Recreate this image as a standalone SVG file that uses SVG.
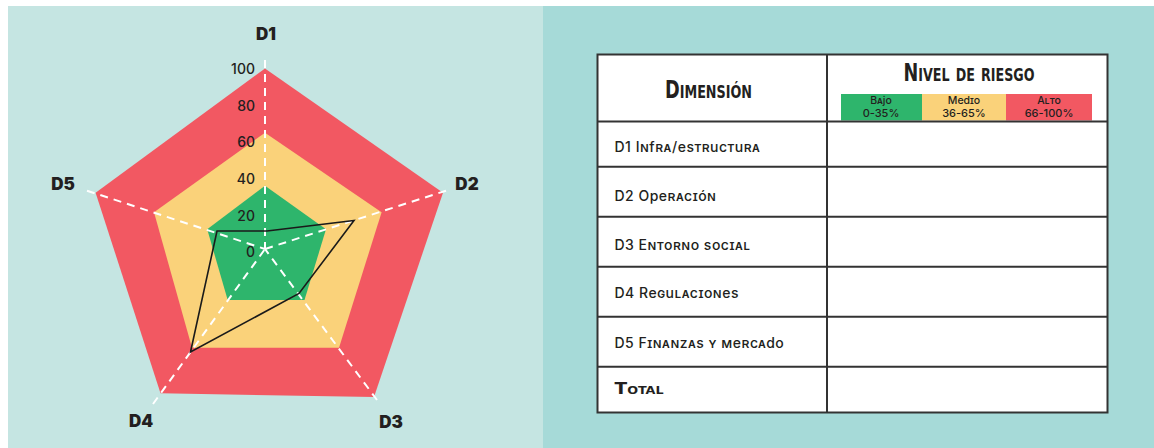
<svg xmlns="http://www.w3.org/2000/svg" width="1154" height="448" viewBox="0 0 1154 448">
<style>
.axis{stroke:#fff;stroke-width:2;stroke-dasharray:8 6;fill:none}
.tick{font-family:Inter,"Noto Sans",sans-serif;font-size:14px;font-weight:500;fill:#231f20;text-anchor:end}
.dl{font-family:Inter,"Noto Sans",sans-serif;font-size:17px;font-weight:900;fill:#231f20;text-anchor:middle}
.row{font-family:Inter,"Noto Sans",sans-serif;font-size:14px;font-weight:500;fill:#231f20;font-variant:small-caps;letter-spacing:0.5px}
.hd{font-family:"DejaVu Sans Condensed","DejaVu Sans",sans-serif;font-stretch:condensed;font-weight:bold;fill:#231f20;font-variant:small-caps}
.lg1{font-family:Inter,"Noto Sans",sans-serif;font-size:10.5px;font-weight:500;fill:#231f20;font-variant:small-caps;text-anchor:middle}
.lg2{font-family:Inter,"Noto Sans",sans-serif;font-size:11px;font-weight:500;fill:#231f20;text-anchor:middle}
.grid{stroke:#333;stroke-width:2;fill:none}
</style>
<rect x="0" y="0" width="1154" height="448" fill="#fff"/>
<rect x="8" y="6" width="535" height="442" fill="#C5E5E2"/>
<rect x="543" y="6" width="611" height="442" fill="#A6DAD8"/>

<g id="radar">
<polygon points="265,68.5 443,192.7 374,397 160.5,393.3 95.6,192.7" fill="#F25862"/>
<polygon points="265,132.7 381.6,212.3 339,347.7 192,347.7 154,212.3" fill="#FAD27A"/>
<polygon points="265,185.7 326,229.3 304.5,300 227.7,300 207.2,229.3" fill="#2EB56C"/>
</g>
<g id="connectors">
<line class="axis" x1="265" y1="60" x2="265" y2="249"/>
<line class="axis" x1="446" y1="190.7" x2="265" y2="249"/>
<line class="axis" x1="377" y1="400" x2="265" y2="249"/>
<line class="axis" x1="153" y1="404" x2="265" y2="249"/>
<line class="axis" x1="87" y1="190.7" x2="265" y2="249"/>
<polygon points="217,231 267,231 354,220.5 299,293.5 190.5,352" fill="none" stroke="#1a1a1a" stroke-width="1.6" stroke-linejoin="miter"/>
</g>
<g id="ticks">
<text class="tick" x="255" y="74">100</text>
<text class="tick" x="255" y="110.7">80</text>
<text class="tick" x="255" y="147.3">60</text>
<text class="tick" x="255" y="184">40</text>
<text class="tick" x="255" y="220.7">20</text>
<text class="tick" x="255" y="257.3">0</text>
</g>
<g id="D1"><text class="dl" x="266" y="39.5">D1</text></g>
<g id="D2"><text class="dl" x="467" y="189.5">D2</text></g>
<g id="D3"><text class="dl" x="391" y="427.5">D3</text></g>
<g id="D4"><text class="dl" x="141" y="427">D4</text></g>
<g id="D5"><text class="dl" x="63" y="189.5">D5</text></g>

<g id="table">
<rect x="597.5" y="54.5" width="510" height="358" fill="#fff"/>
<text class="hd" x="665" y="98.3" font-size="25" textLength="87" lengthAdjust="spacingAndGlyphs">Dimensión</text>
<text class="hd" x="903.5" y="80.7" font-size="25" textLength="131" lengthAdjust="spacingAndGlyphs">Nivel de riesgo</text>
<rect x="841" y="94" width="81" height="26.5" fill="#2EB56C"/>
<rect x="922" y="94" width="84" height="26.5" fill="#FAD27A"/>
<rect x="1006" y="94" width="86" height="26.5" fill="#F25862"/>
<text class="lg1" x="881" y="104">Bajo</text>
<text class="lg2" x="881" y="117">0-35%</text>
<text class="lg1" x="964" y="104">Medio</text>
<text class="lg2" x="964" y="117">36-65%</text>
<text class="lg1" x="1049" y="104">Alto</text>
<text class="lg2" x="1049" y="117">66-100%</text>
<text class="row" x="614.5" y="151.7">D1 Infra/estructura</text>
<text class="row" x="614.5" y="201">D2 Operación</text>
<text class="row" x="614.5" y="250">D3 Entorno social</text>
<text class="row" x="614.5" y="298.3">D4 Regulaciones</text>
<text class="row" x="614.5" y="347.7">D5 Finanzas y mercado</text>
<text class="hd" x="614.5" y="394" font-size="16" font-weight="900" textLength="49" lengthAdjust="spacingAndGlyphs">Total</text>
<rect class="grid" x="597.5" y="54.5" width="510" height="358"/>
<line class="grid" x1="827" y1="54.5" x2="827" y2="412.5"/>
<line class="grid" x1="597.5" y1="121.5" x2="1107.5" y2="121.5"/>
<line class="grid" x1="597.5" y1="166.7" x2="1107.5" y2="166.7"/>
<line class="grid" x1="597.5" y1="216.7" x2="1107.5" y2="216.7"/>
<line class="grid" x1="597.5" y1="266.7" x2="1107.5" y2="266.7"/>
<line class="grid" x1="597.5" y1="316.7" x2="1107.5" y2="316.7"/>
<line class="grid" x1="597.5" y1="366.7" x2="1107.5" y2="366.7"/>
</g>
</svg>
